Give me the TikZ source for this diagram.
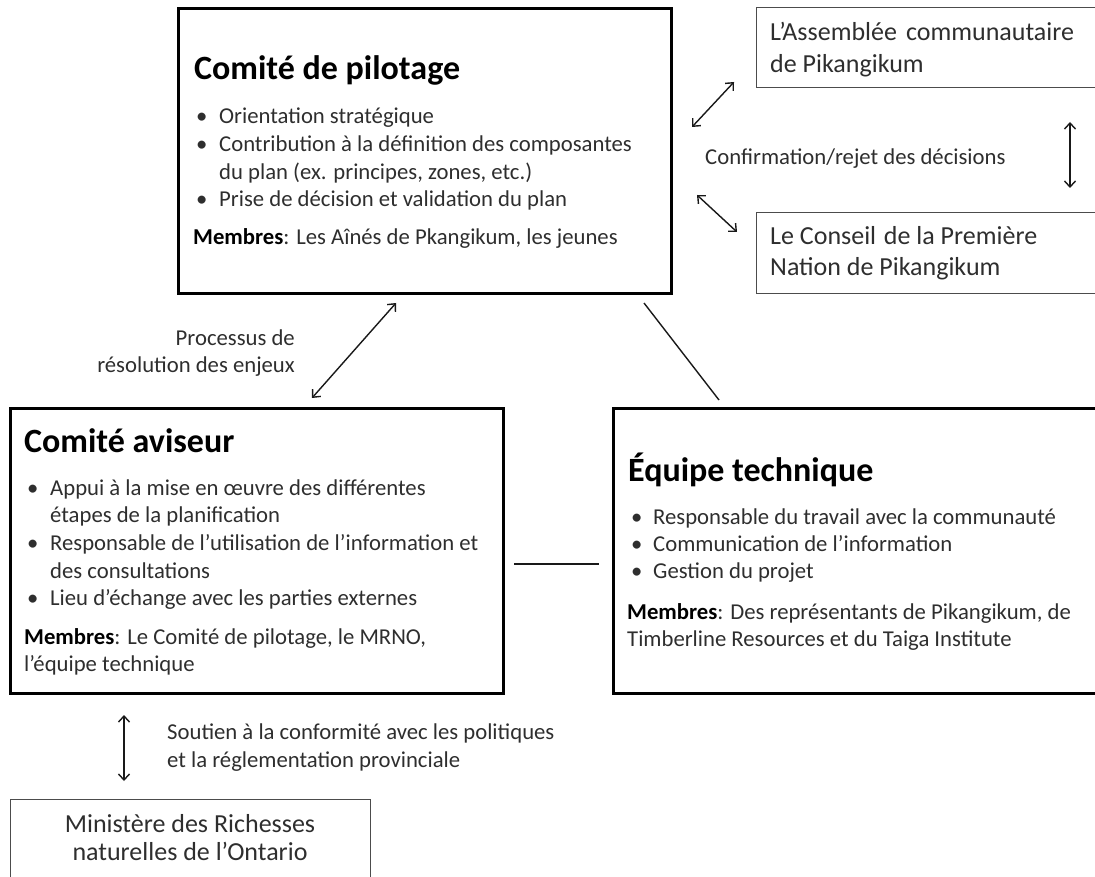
\documentclass[tikz,border=0pt]{standalone}
\usepackage{fontspec}
\setmainfont{Carlito}
\usetikzlibrary{arrows.meta}
\newcommand{\bulline}[5]{\node[body] (#1) at (#2,#3) {\makebox[#4][l]{•}#5};}
\begin{document}
\begin{tikzpicture}[x=1pt,y=-1pt,
  bigbox/.style={draw=black, line width=2.6pt, inner sep=0pt, anchor=north west},
  smallbox/.style={draw=black!70, line width=1.4pt, inner sep=0pt, anchor=north west},
  body/.style={anchor=base west, inner sep=0pt, text=black!82, font=\fontsize{22.7}{27.7}\selectfont},
  boxtxt/.style={anchor=base west, inner sep=0pt, text=black!82, font=\fontsize{26}{32}\selectfont},
  ttl/.style={anchor=base west, inner sep=0pt, text=black, font=\fontsize{34}{40}\selectfont\bfseries},
  link/.style={line width=1.4pt, draw=black!90},
  dbl/.style={link, {Straight Barb[length=6pt,width=11pt,line width=1.4pt]}-{Straight Barb[length=6pt,width=11pt,line width=1.4pt]}},
]
\useasboundingbox (0,0) rectangle (1095,877);
\clip (0,0) rectangle (1095,877);

% ---------- boxes ----------
\node[bigbox, minimum width=493pt, minimum height=285pt] (pil) at (177,7) {};
\node[smallbox, minimum width=360pt, minimum height=80pt] (asm) at (756,7) {};
\node[smallbox, minimum width=360pt, minimum height=81pt] (cns) at (756,212) {};
\node[bigbox, minimum width=493pt, minimum height=285pt] (avi) at (9,407) {};
\node[bigbox, minimum width=500pt, minimum height=285pt] (equ) at (612,407) {};
\node[smallbox, minimum width=360pt, minimum height=120pt] (min) at (10,799) {};

% ---------- Comité de pilotage ----------
\node[ttl] (pilT) at (194,80) {Comité de pilotage};
\bulline{pil1}{196}{124}{23pt}{Orientation stratégique}
\bulline{pil2}{196}{152}{23pt}{Contribution à la définition des composantes}
\node[body] (pil3) at (219,180) {du plan (ex. principes, zones, etc.)};
\bulline{pil4}{196}{207}{23pt}{Prise de décision et validation du plan}
\node[body] (pilM) at (193,245) {\textcolor{black}{\textbf{Membres}}: Les Aînés de Pkangikum, les jeunes};

% ---------- Assemblée / Conseil ----------
\node[boxtxt] (asm1) at (770,41) {L’Assemblée\hspace{0.35em}communautaire};
\node[boxtxt] (asm2) at (770,73) {de Pikangikum};
\node[boxtxt] (cns1) at (770,245) {Le Conseil\hspace{0.3em}de la Première};
\node[boxtxt] (cns2) at (770,276) {Nation de Pikangikum};
\node[body] (conf) at (705,165) {Confirmation/rejet des décisions};

% ---------- Comité aviseur ----------
\node[ttl] (aviT) at (24,452) {Comité aviseur};
\bulline{avi1}{27}{495}{23pt}{Appui à la mise en œuvre des différentes}
\node[body] (avi2) at (50,522) {étapes de la planification};
\bulline{avi3}{27}{550}{23pt}{Responsable de l’utilisation de l’information et}
\node[body] (avi4) at (50,578) {des consultations};
\bulline{avi5}{27}{605}{23pt}{Lieu d’échange avec les parties externes}
\node[body] (aviM1) at (24,644) {\textcolor{black}{\textbf{Membres}}: Le Comité de pilotage, le MRNO,};
\node[body] (aviM2) at (24,671) {l’équipe technique};

% ---------- Équipe technique ----------
\node[ttl] (equT) at (628,481) {Équipe technique};
\bulline{equ1}{631}{524}{22pt}{Responsable du travail avec la communauté}
\bulline{equ2}{631}{551}{22pt}{Communication de l’information}
\bulline{equ3}{631}{578}{22pt}{Gestion du projet}
\node[body] (equM1) at (627,619) {\textcolor{black}{\textbf{Membres}}: Des représentants de Pikangikum, de};
\node[body] (equM2) at (627,646) {Timberline Resources et du Taiga Institute};

% ---------- Processus ----------
\node[body, anchor=base east] (proc1) at (295,345) {Processus de};
\node[body, anchor=base east] (proc2) at (295,372) {résolution des enjeux};

% ---------- Ministère ----------
\node[body] (sou1) at (167,739) {Soutien à la conformité avec les politiques};
\node[body] (sou2) at (167,767) {et la réglementation provinciale};
\node[boxtxt, anchor=base] (min1) at (190,832) {Ministère des Richesses};
\node[boxtxt, anchor=base] (min2) at (190,860) {naturelles de l’Ontario};

% ---------- connector ends ----------
\coordinate (aA) at (692,127); \coordinate (aB) at (734,82);
\coordinate (cA) at (697,195); \coordinate (cB) at (737,232);
\coordinate (vA) at (1070,122); \coordinate (vB) at (1070,188);
\coordinate (pA) at (312,398); \coordinate (pB) at (396,303);
\coordinate (mA) at (124,715); \coordinate (mB) at (124,781);
\coordinate (dA) at (644,303); \coordinate (dB) at (719,400);
\coordinate (hA) at (514,564); \coordinate (hB) at (599,564);

\draw[dbl] (aA) -- (aB);
\draw[dbl] (cA) -- (cB);
\draw[dbl] (vA) -- (vB);
\draw[dbl] (pA) -- (pB);
\draw[dbl] (mA) -- (mB);
\draw[link] (dA) -- (dB);
\draw[link] (hA) -- (hB);
\end{tikzpicture}
\end{document}
